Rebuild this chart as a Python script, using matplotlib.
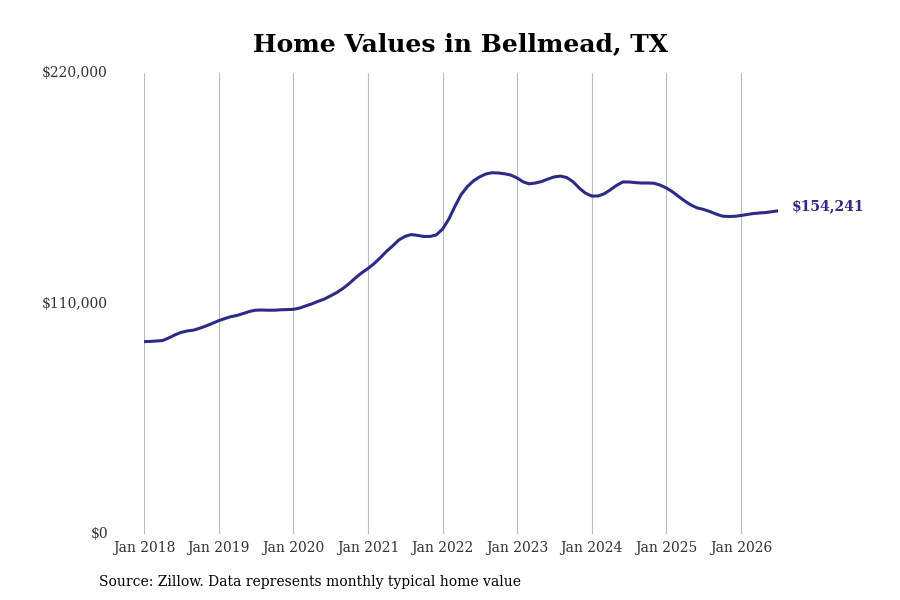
import numpy as np
import pandas as pd
import matplotlib
matplotlib.use("Agg")
import matplotlib.pyplot as plt
import matplotlib.dates as mdates
from matplotlib.ticker import FuncFormatter

# monthly typical home value, Jan 2018 .. Jul 2026 (in $1000s)
values_k = [
    91.8, 91.9, 92.1, 92.3, 93.5, 95.0, 96.2, 96.9, 97.3, 98.2, 99.3, 100.5,
    101.8, 102.8, 103.7, 104.3, 105.2, 106.2, 106.8, 106.9, 106.8, 106.8, 107.0, 107.1,
    107.2, 107.8, 108.8, 109.8, 111.0, 112.1, 113.6, 115.2, 117.2, 119.5, 122.2, 124.6,
    126.7, 129.1, 131.7, 134.8, 137.4, 140.3, 142.0, 142.9, 142.5, 142.0, 142.0, 142.7,
    145.5, 150.3, 156.0, 161.8, 165.6, 168.5, 170.4, 171.8, 172.4, 172.3, 171.9, 171.3,
    169.9, 168.0, 167.1, 167.5, 168.2, 169.4, 170.4, 170.8, 170.1, 168.2, 165.1, 162.7,
    161.3, 161.3, 162.3, 164.2, 166.3, 168.0, 168.0, 167.7, 167.5, 167.5, 167.4, 166.5,
    165.1, 163.2, 161.1, 158.9, 157.0, 155.6, 154.9, 153.9, 152.7, 151.7, 151.5, 151.6,
    152.0, 152.5, 152.9, 153.2, 153.4, 153.8, 154.241,
]
dates = pd.date_range("2018-01-01", periods=len(values_k), freq="MS")
values = np.array(values_k) * 1000
last_label = "$154,241"

yticks = [0, 110000, 220000]
xtick_years = list(range(2018, 2027))

line_color = "#2e2a87"
plt.rcParams["font.family"] = "DejaVu Serif"

fig = plt.figure(figsize=(9, 6), dpi=100)
ax = fig.add_axes([144 / 900, 1 - 534 / 600, (778 - 144) / 900, (534 - 73) / 600])

ax.plot(dates, values, color=line_color, lw=2.2, solid_capstyle="round")
ax.annotate(last_label, xy=(dates[-1], values[-1]), xytext=(10, 3.6),
            textcoords="offset points", color=line_color, fontsize=10,
            fontweight="bold", va="center", ha="left", annotation_clip=False)

ax.set_xlim(dates[0], dates[-1])
ax.set_ylim(0, 220000)
ax.set_yticks(yticks)
ax.yaxis.set_major_formatter(FuncFormatter(lambda v, p: f"${v:,.0f}"))
ax.set_xticks([pd.Timestamp(f"{y}-01-01") for y in xtick_years])
ax.xaxis.set_major_formatter(mdates.DateFormatter("Jan %Y"))

ax.grid(axis="x", color="#bbbbbb", lw=0.8)
ax.grid(axis="y", visible=False)
for s in ax.spines.values():
    s.set_visible(False)
ax.tick_params(axis="y", length=0, pad=26, labelsize=10, labelcolor="#333333")
ax.tick_params(axis="x", length=0, pad=5, labelsize=10, labelcolor="#333333")
for lbl in ax.get_yticklabels():
    lbl.set_verticalalignment("center")

fig.text(461 / 900, 1 - 44 / 600, "Home Values in Bellmead, TX", ha="center", va="center",
         fontsize=18, fontweight="bold")
fig.text(99 / 900, 1 - 582 / 600, "Source: Zillow. Data represents monthly typical home value",
         ha="left", va="center", fontsize=10)

fig.savefig("out.png", dpi=100)
